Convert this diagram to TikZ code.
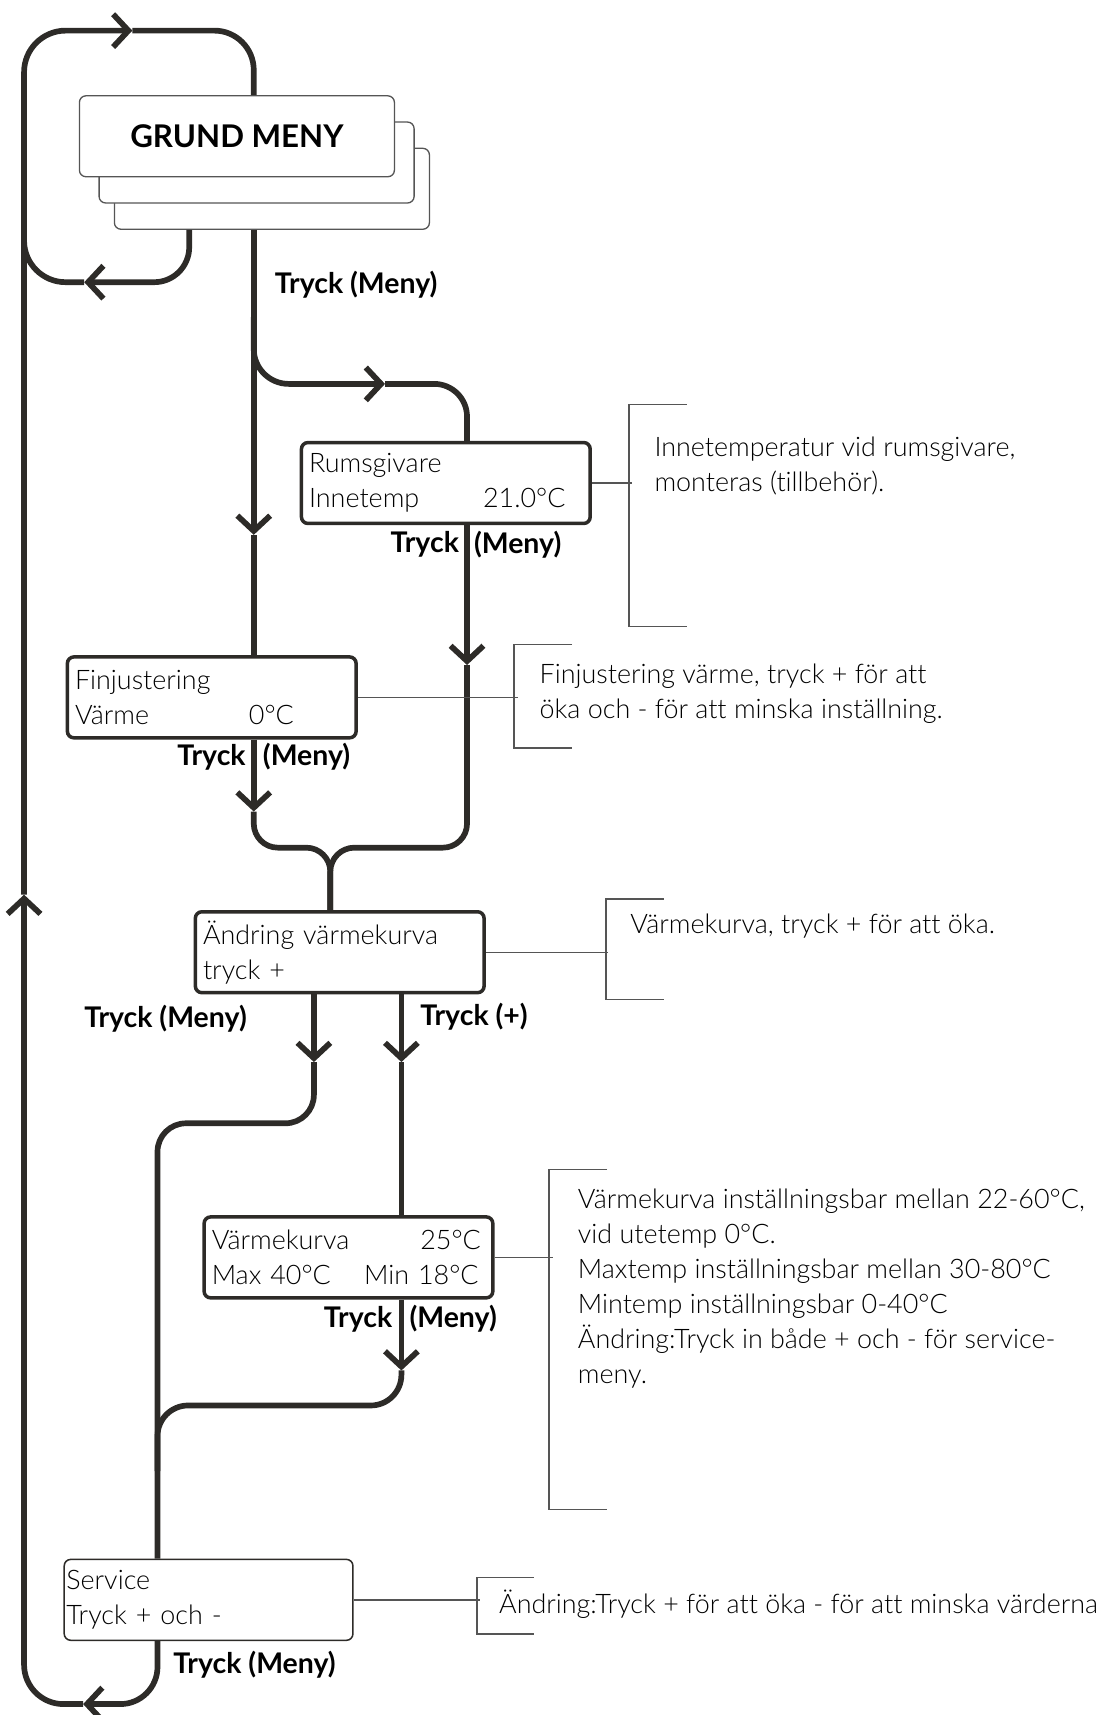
\documentclass[tikz,border=0pt]{standalone}
\usepackage{fontspec}
\setmainfont{Lato Light}[BoldFont={Lato Bold}, Ligatures=NoCommon]
\usetikzlibrary{arrows.meta}
\definecolor{ink}{HTML}{2D2B28}
\definecolor{rim}{HTML}{555555}
\tikzset{flow/.style={draw=ink, line width=2.6pt, rounded corners=11pt},
 tip/.style={-{Straight Barb[length=7pt, width=15pt]}},
 disp/.style={draw=ink, line width=1.6pt, rounded corners=3pt, fill=white,
   text width=125pt, inner xsep=3.5pt, inner ysep=0pt, minimum height=37pt,
   align=left, anchor=north west},
 svc/.style={disp, line width=0.7pt, text width=130pt, inner xsep=1pt},
 menu/.style={draw=rim, line width=0.6pt, rounded corners=3pt, fill=white,
   minimum width=144pt, minimum height=37pt, inner sep=0pt, anchor=north west},
 brk/.style={draw=rim, line width=0.6pt},
 note/.style={anchor=west, align=left, inner sep=0pt},
 lbl/.style={font=\bfseries\fontsize{13}{16}\selectfont, inner sep=0pt},
}

\begin{document}
\begin{tikzpicture}[x=0.5pt, y=-0.5pt, font=\fontsize{12.3}{16}\selectfont]
        \useasboundingbox (0,0) rectangle (1017.6,1568);

        % menu stack
        \node[menu] (gm3) at (104,135) {};
        \node[menu] (gm2) at (90,111) {};
        \node[menu, font=\bfseries\fontsize{14.3}{18}\selectfont] (gm) at (72,87) {GRUND MENY};

        % display boxes
        \node[disp] (rum) at (274,403) {Rumsgivare\\\makebox[79.5pt][l]{Innetemp}21.0°C};
        \node[disp] (fin) at (60,599) {Finjustering\\\makebox[79.5pt][l]{Värme}0°C};
        \node[disp] (andr) at (177,832) {Ändring värmekurva\\tryck +};
        \node[disp] (vk) at (185,1111) {Värmekurva\hfill 25°C\kern2pt\\Max 40°C\hfill Min 18°C\kern3pt};
        \node[svc] (svc) at (58,1425) {Service\\Tryck + och -};

        % columns and points
        \coordinate (colL) at (22,0);
        \coordinate (colG) at (173,0);
        \coordinate (colM) at (232,0);
        \coordinate (colR) at (427,0);
        \coordinate (colJ) at (302,0);
        \coordinate (colA) at (287,0);
        \coordinate (colB) at (367,0);
        \coordinate (colS) at (144,0);
        \coordinate (a0) at (121,28);
        \coordinate (a1) at (77,258);
        \coordinate (a2) at (352,351);
        \coordinate (a3) at (232,489);
        \coordinate (a4) at (427,608);
        \coordinate (a5) at (232,742);
        \coordinate (a6) at (287,971);
        \coordinate (a7) at (367,971);
        \coordinate (a8) at (367,1253);
        \coordinate (a10) at (22,818);
        \coordinate (a11) at (76,1558);
        \coordinate (j1) at (22,200);
        \coordinate (j2) at (232,290);
        \coordinate (j4) at (144,1345);
        \coordinate (m1) at (302,775);
        \coordinate (m2) at (144,1027);
        \coordinate (m3) at (144,1285);

        % return loop
        \draw[flow, tip, rounded corners=17pt] (svc.south -| colS) |- (a11);
        \draw[flow, tip, rounded corners=18pt] (a11) -| (a10);
        \draw[flow, tip, rounded corners=19pt] (a10) |- (a0);
        \draw[flow, rounded corners=18pt] (a0) -| (gm.north -| colM);
        \draw[flow, tip, rounded corners=16pt] (gm3.south -| colG) |- (a1);
        \draw[flow, rounded corners=19pt] (a1) -| (j1);

        % menu down
        \draw[flow, tip] (gm3.south -| colM) -- (a3);
        \draw[flow] (a3) -- (fin.north -| colM);
        \draw[flow, tip, rounded corners=16pt] (j2) |- (a2);
        \draw[flow, rounded corners=15pt] (a2) -| (rum.north -| colR);
        \draw[flow, tip] (rum.south -| colR) -- (a4);
        \draw[flow] (a4) |- (m1) -- (andr.north -| colJ);
        \draw[flow, tip] (fin.south -| colM) -- (a5);
        \draw[flow] (a5) |- (m1) -- (andr.north -| colJ);

        % curve branches
        \draw[flow, tip] (andr.south -| colA) -- (a6);
        \draw[flow, rounded corners=13pt] (a6) |- (m2) -- (svc.north -| colS);
        \draw[flow, tip] (andr.south -| colB) -- (a7);
        \draw[flow] (a7) -- (vk.north -| colB);
        \draw[flow, tip] (vk.south -| colB) -- (a8);
        \draw[flow, rounded corners=14pt] (a8) |- (m3) -- (j4);

        % labels
        \node[lbl, anchor=west] (t1) at (251,260) {Tryck (Meny)};
        \node[lbl, anchor=east] (t2a) at (420,498) {Tryck};
        \node[lbl, anchor=west] (t2b) at (433,498) {(Meny)};
        \node[lbl, anchor=east] (t3a) at (225,692) {Tryck};
        \node[lbl, anchor=west] (t3b) at (240,692) {(Meny)};
        \node[lbl, anchor=east] (t4) at (226,931) {Tryck (Meny)};
        \node[lbl, anchor=west] (t5) at (384,930) {Tryck (+)};
        \node[lbl, anchor=east] (t6a) at (359,1206) {Tryck};
        \node[lbl, anchor=west] (t6b) at (374,1206) {(Meny)};
        \node[lbl, anchor=west] (t7) at (158,1522) {Tryck (Meny)};

        % notes
        \draw[brk] (rum.east) -- ++(37,0);
        \draw[brk] (628,370) -| (575,573) -- (628,573);
        \node[note] (n1) at (598,426) {Innetemperatur vid rumsgivare,\\monteras (tillbehör).};
        \draw[brk] (fin.east) -- ++(146,0);
        \draw[brk] (523,589) -| (470,684) -- (523,684);
        \node[note] (n2) at (493,634) {Finjustering värme, tryck + för att\\öka och - för att minska inställning.};
        \draw[brk] (andr.east) -- ++(112,0);
        \draw[brk] (607,822) -| (554,914) -- (607,914);
        \node[note] (n3) at (576,847) {Värmekurva, tryck + för att öka.};
        \draw[brk] (vk.east) -- ++(53,0);
        \draw[brk] (555,1069) -| (502,1380) -- (555,1380);
        \node[note] (n4) at (528,1178) {Värmekurva inställningsbar mellan 22-60°C,\\vid utetemp 0°C.\\Maxtemp inställningsbar mellan 30-80°C\\Mintemp inställningsbar 0-40°C\\Ändring:Tryck in både + och - för service-\\meny.};
        \draw[brk] (svc.east) -- ++(115,0);
        \draw[brk] (488,1442) -| (436,1494) -- (488,1494);
        \node[note] (n5) at (456,1467) {Ändring:Tryck + för att öka - för att minska värderna};
    \end{tikzpicture}
\end{document}
